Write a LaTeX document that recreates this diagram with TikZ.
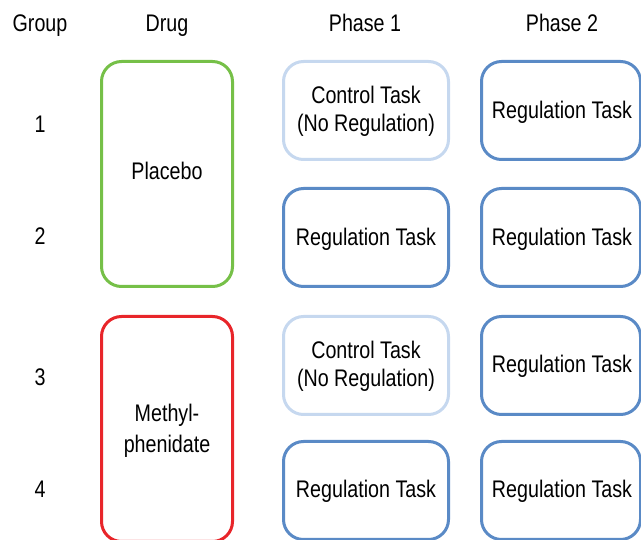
\documentclass[tikz,border=0pt]{standalone}
\usepackage{fontspec}
\setmainfont{Liberation Sans}[FakeStretch=0.82]
\definecolor{pgreen}{RGB}{118,192,72}
\definecolor{pred}{RGB}{232,37,42}
\definecolor{pblue}{RGB}{90,138,198}
\definecolor{plight}{RGB}{198,216,239}
\begin{document}
\begin{tikzpicture}[x=1pt,y=-1pt,
  box/.style={draw, rounded corners=20pt, line width=3pt, inner sep=0pt, fill=white},
  drugbox/.style={box, minimum width=131pt, minimum height=225pt},
  taskbox/.style={box, draw=pblue, minimum width=165pt, minimum height=98pt},
  ctrlbox/.style={taskbox, draw=plight},
  p2box/.style={taskbox, minimum width=159pt},
  txt/.style={anchor=base, inner sep=0pt, font=\fontsize{24}{30}\selectfont}
]
\useasboundingbox (0,0) rectangle (641,540);
\clip (0,0) rectangle (641,540);

% headers
\node[txt] (hgroup) at (40,32) {Group};
\node[txt] (hdrug) at (167,32) {Drug};
\node[txt] (hp1) at (365,32) {Phase 1};
\node[txt] (hp2) at (562,32) {Phase 2};

% group numbers
\node[txt] (g1) at (40,133) {1};
\node[txt] (g2) at (40,245) {2};
\node[txt] (g3) at (40,386) {3};
\node[txt] (g4) at (40,498) {4};

% drug boxes
\node[drugbox, draw=pgreen] (placebo) at (167,174) {};
\node[drugbox, draw=pred] (methyl) at (167,429) {};
\node[txt] (placebotxt) at (167,180) {Placebo};
\node[txt] (methyltxt1) at (167,422) {Methyl-};
\node[txt] (methyltxt2) at (167,453) {phenidate};

% phase 1 boxes
\node[ctrlbox] (p1r1) at (366,110.5) {};
\node[taskbox] (p1r2) at (366,237.5) {};
\node[ctrlbox] (p1r3) at (366,365.5) {};
\node[taskbox] (p1r4) at (366,490.5) {};

% phase 2 boxes
\node[p2box] (p2r1) at (561,110.5) {};
\node[p2box] (p2r2) at (561,237.5) {};
\node[p2box] (p2r3) at (561,365.5) {};
\node[p2box] (p2r4) at (561,490.5) {};

% phase 1 texts
\node[txt] (t11a) at (366,104) {Control Task};
\node[txt] (t11b) at (366,132) {(No Regulation)};
\node[txt] (t12) at (366,245.5) {Regulation Task};
\node[txt] (t13a) at (366,358.5) {Control Task};
\node[txt] (t13b) at (366,386.5) {(No Regulation)};
\node[txt] (t14) at (366,497.5) {Regulation Task};

% phase 2 texts
\node[txt] (t21) at (562,119) {Regulation Task};
\node[txt] (t22) at (562,245.5) {Regulation Task};
\node[txt] (t23) at (562,373) {Regulation Task};
\node[txt] (t24) at (562,497.5) {Regulation Task};
\end{tikzpicture}
\end{document}
